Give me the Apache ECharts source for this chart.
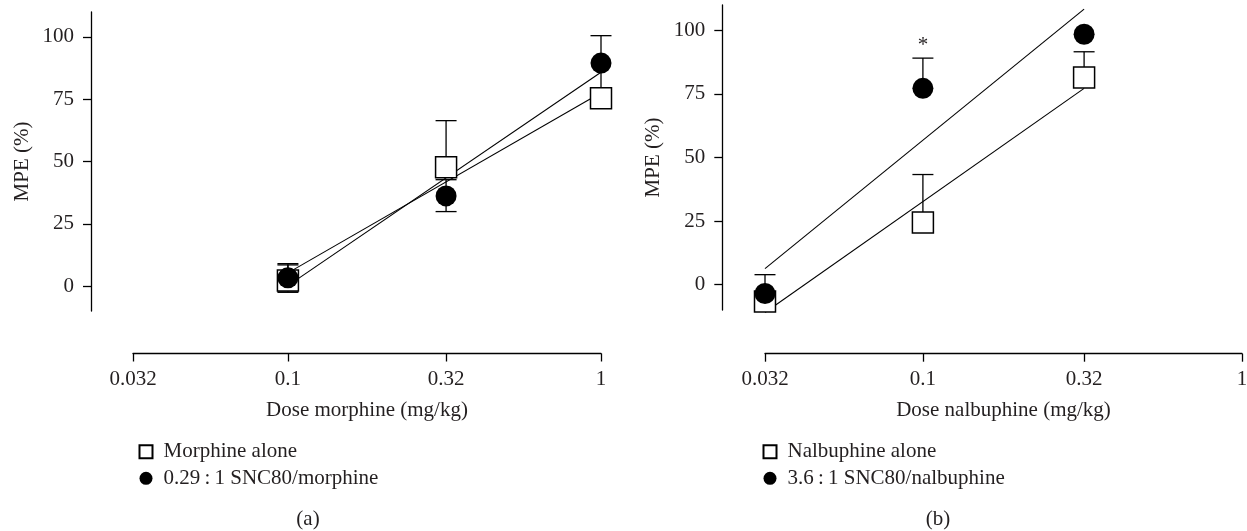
<!DOCTYPE html>
<html>
<head>
<meta charset="utf-8">
<script src="https://cdn.jsdelivr.net/npm/echarts@6/dist/echarts.min.js"></script>
<style>
    html, body { margin: 0; background: #fff; }
    #chart { width: 1247px; height: 531px; }
</style>
</head>
<body>
<div id="chart"></div>
<script>
    // x tick doses and labels (log scale, mg/kg)
    const xTickDoses = [0.032, 0.1, 0.32, 1];
    const xTickLabels = ['0.032', '0.1', '0.32', '1'];
    const yTickValues = [0, 25, 50, 75, 100];

    // (a) morphine
    const morphineDoses = [0.1, 0.32, 1];
    const morphineAlone = [2.2, 47.7, 75.4];
    const morphineAloneLow = [-2.5, 47.7, 75.4];
    const morphineAloneHigh = [9, 66.4, 75.4];
    const morphineCombo = [3.3, 36.2, 89.5];
    const morphineComboLow = [-2, 29.9, 79.5];
    const morphineComboHigh = [8.5, 42.7, 100.5];
    const morphineFitDoses = [0.1, 1];
    const morphineAloneFit = [5.3, 77.6];
    const morphineComboFit = [0.2, 85.8];

    // (b) nalbuphine
    const nalbuphineDoses = [0.032, 0.1, 0.32];
    const nalbuphineAlone = [-6.7, 24.4, 81.5];
    const nalbuphineAloneLow = [-6.7, 24.4, 81.5];
    const nalbuphineAloneHigh = [-6.7, 43.3, 91.6];
    const nalbuphineCombo = [-3.5, 77.2, 98.5];
    const nalbuphineComboLow = [-3.5, 77.2, 98.5];
    const nalbuphineComboHigh = [3.9, 89.1, 98.5];
    const nalbuphineComboStar = [0, 1, 0];
    const nalbuphineFitDoses = [0.032, 0.32];
    const nalbuphineAloneFit = [-11, 77.2];
    const nalbuphineComboFit = [6.3, 108.4];

    const FONT = 'Liberation Serif';
    const FS = 21;
    const TXT = '#231f20';
    const lg = d => Math.log10(d);

    let myChart = echarts.init(document.getElementById('chart'));

    function pts(doses, vals) {
        return doses.map((d, i) => [lg(d), vals[i]]);
    }

    function errPts(doses, vals, lo, hi, star) {
        return doses.map((d, i) => [lg(d), vals[i], lo[i], hi[i], star ? star[i] : 0]);
    }

    function renderErrorBar(params, api) {
        let x = api.value(0), mean = api.value(1), lo = api.value(2), hi = api.value(3), star = api.value(4);
        let top = api.coord([x, hi]);
        let bot = api.coord([x, lo]);
        let half = 10.5;
        let style = {stroke: '#000', lineWidth: 1.3, fill: null};
        let children = [{type: 'line', shape: {x1: top[0], y1: top[1], x2: bot[0], y2: bot[1]}, style: style}];
        if (hi > mean) {
            children.push({type: 'line', shape: {x1: top[0] - half, y1: top[1], x2: top[0] + half, y2: top[1]}, style: style});
        }
        if (lo < mean) {
            children.push({type: 'line', shape: {x1: bot[0] - half, y1: bot[1], x2: bot[0] + half, y2: bot[1]}, style: style});
        }
        if (star) {
            children.push({
                type: 'text', x: top[0], y: top[1] - 2,
                style: {text: '*', align: 'center', verticalAlign: 'bottom', font: FS + 'px "' + FONT + '"', fill: TXT}
            });
        }
        return {type: 'group', children: children};
    }

    function doseAxis(gridIndex, name, offset) {
        return {
            type: 'value',
            gridIndex: gridIndex,
            min: lg(xTickDoses[0]),
            max: lg(xTickDoses[xTickDoses.length - 1]),
            offset: offset,
            name: name,
            nameLocation: 'middle',
            nameGap: 46,
            nameTextStyle: {fontFamily: FONT, fontSize: FS, color: TXT},
            axisLine: {onZero: false, lineStyle: {color: '#000', width: 1.3}},
            axisTick: {length: 8, customValues: xTickDoses.map(lg), lineStyle: {color: '#000', width: 1.3}},
            axisLabel: {
                customValues: xTickDoses.map(lg),
                formatter: v => {
                    let best = 0;
                    xTickDoses.forEach((d, i) => {
                        if (Math.abs(lg(d) - v) < Math.abs(lg(xTickDoses[best]) - v)) best = i;
                    });
                    return xTickLabels[best];
                },
                margin: 15, fontFamily: FONT, fontSize: FS, color: TXT
            },
            splitLine: {show: false}
        };
    }

    function mpeAxis(gridIndex, offset) {
        return {
            type: 'value',
            gridIndex: gridIndex,
            min: -10,
            max: 110,
            offset: offset,
            name: 'MPE (%)',
            nameLocation: 'middle',
            nameGap: 58,
            nameTextStyle: {fontFamily: FONT, fontSize: FS, color: TXT},
            axisLine: {onZero: false, lineStyle: {color: '#000', width: 1.3}},
            axisTick: {length: 8, customValues: yTickValues, lineStyle: {color: '#000', width: 1.3}},
            axisLabel: {customValues: yTickValues, margin: 17, fontFamily: FONT, fontSize: FS, color: TXT},
            splitLine: {show: false}
        };
    }

    function fitLine(name, idx, doses, vals) {
        return {
            name: name, type: 'line', xAxisIndex: idx, yAxisIndex: idx,
            data: pts(doses, vals), showSymbol: false, symbol: 'none', clip: false, silent: true, z: 1,
            lineStyle: {color: '#000', width: 1.1}
        };
    }

    function errSeries(name, idx, data) {
        return {
            name: name, type: 'custom', xAxisIndex: idx, yAxisIndex: idx,
            renderItem: renderErrorBar, data: data, clip: false, silent: true, z: 2
        };
    }

    function squares(name, idx, doses, vals) {
        return {
            name: name, type: 'scatter', xAxisIndex: idx, yAxisIndex: idx,
            data: pts(doses, vals), symbol: 'rect', symbolSize: 21, clip: false, z: 3,
            itemStyle: {color: '#fff', borderColor: '#000', borderWidth: 1.5, opacity: 1}
        };
    }

    function circles(name, idx, doses, vals) {
        return {
            name: name, type: 'scatter', xAxisIndex: idx, yAxisIndex: idx,
            data: pts(doses, vals), symbol: 'circle', symbolSize: 21, clip: false, z: 4,
            itemStyle: {color: '#000', borderColor: '#000', borderWidth: 0, opacity: 1}
        };
    }

    const legendA = ['Morphine alone', '0.29\u2009:\u20091 SNC80/morphine'];
    const legendB = ['Nalbuphine alone', '3.6\u2009:\u20091 SNC80/nalbuphine'];

    function legendAt(left, data) {
        return {
            data: data, orient: 'vertical', left: left, top: 441.2, padding: 0,
            itemWidth: 13, itemHeight: 13, itemGap: 5.6, selectedMode: false,
            textStyle: {fontFamily: FONT, fontSize: FS, lineHeight: 21, color: TXT, padding: [0, 0, 0, 6]}
        };
    }

    let option = {
        animation: false,
        backgroundColor: '#fff',
        grid: [
            {left: 133, right: 646, top: 12, bottom: 220, outerBoundsMode: 'none'},
            {left: 765, right: 5, top: 5, bottom: 221, outerBoundsMode: 'none'}
        ],
        xAxis: [
            doseAxis(0, 'Dose morphine (mg/kg)', 42.5),
            doseAxis(1, 'Dose nalbuphine (mg/kg)', 43.7)
        ],
        yAxis: [
            mpeAxis(0, 42),
            mpeAxis(1, 42.7)
        ],
        legend: [legendAt(138.5, legendA), legendAt(762.5, legendB)],
        graphic: [
            {type: 'text', x: 308, y: 519, style: {text: '(a)', align: 'center', verticalAlign: 'middle', font: FS + 'px "' + FONT + '"', fill: TXT}},
            {type: 'text', x: 938, y: 519, style: {text: '(b)', align: 'center', verticalAlign: 'middle', font: FS + 'px "' + FONT + '"', fill: TXT}}
        ],
        series: [
            fitLine('morphine fit', 0, morphineFitDoses, morphineAloneFit),
            fitLine('combo fit', 0, morphineFitDoses, morphineComboFit),
            errSeries('morphine err', 0, errPts(morphineDoses, morphineAlone, morphineAloneLow, morphineAloneHigh)),
            errSeries('combo err', 0, errPts(morphineDoses, morphineCombo, morphineComboLow, morphineComboHigh)),
            squares(legendA[0], 0, morphineDoses, morphineAlone),
            circles(legendA[1], 0, morphineDoses, morphineCombo),

            fitLine('nalbuphine fit', 1, nalbuphineFitDoses, nalbuphineAloneFit),
            fitLine('nal combo fit', 1, nalbuphineFitDoses, nalbuphineComboFit),
            errSeries('nalbuphine err', 1, errPts(nalbuphineDoses, nalbuphineAlone, nalbuphineAloneLow, nalbuphineAloneHigh)),
            errSeries('nal combo err', 1, errPts(nalbuphineDoses, nalbuphineCombo, nalbuphineComboLow, nalbuphineComboHigh, nalbuphineComboStar)),
            squares(legendB[0], 1, nalbuphineDoses, nalbuphineAlone),
            circles(legendB[1], 1, nalbuphineDoses, nalbuphineCombo)
        ]
    };

    myChart.setOption(option);
</script>
</body>
</html>
